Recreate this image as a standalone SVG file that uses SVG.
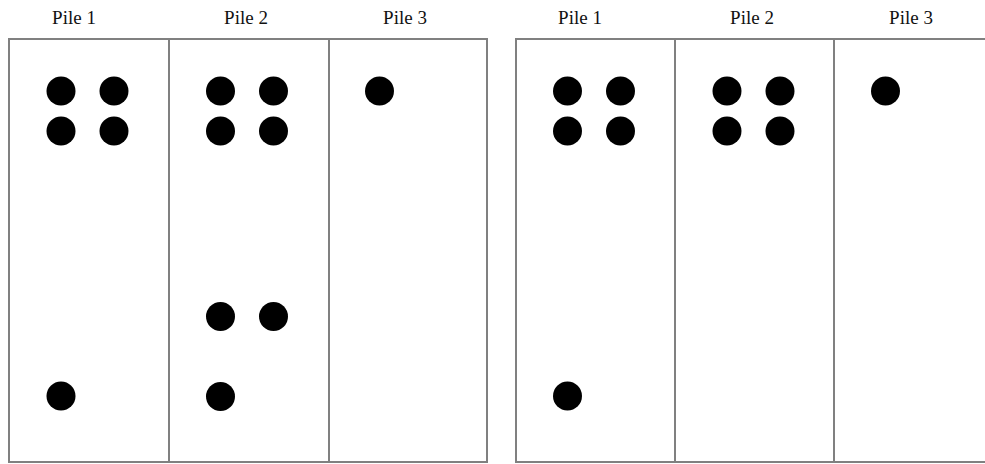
<svg xmlns="http://www.w3.org/2000/svg" width="985" height="464" viewBox="0 0 985 464">
<style>
.frame{fill:none;stroke:#808080;stroke-width:2}
.lbl{font-family:"Liberation Serif","Times New Roman",serif;font-size:19px;fill:#111;text-anchor:middle}
.tok{fill:#000}
</style>
<rect width="985" height="464" fill="#fff"/>
<defs>
<circle id="t" r="14.5" class="tok"/>
</defs>
<g id="state-left">
  <g id="L-frame">
    <rect class="frame" x="9" y="39" width="478" height="423"/>
    <line class="frame" x1="169" y1="39" x2="169" y2="462"/>
    <line class="frame" x1="329" y1="39" x2="329" y2="462"/>
  </g>
  <g id="L-pile1">
    <text class="lbl" x="74" y="24">Pile 1</text>
    <use href="#t" x="61" y="91"/><use href="#t" x="114" y="91"/>
    <use href="#t" x="61" y="131"/><use href="#t" x="114" y="131"/>
    <use href="#t" x="61" y="396"/>
  </g>
  <g id="L-pile2">
    <text class="lbl" x="246" y="24">Pile 2</text>
    <use href="#t" x="220.5" y="91"/><use href="#t" x="273.5" y="91"/>
    <use href="#t" x="220.5" y="131"/><use href="#t" x="273.5" y="131"/>
    <use href="#t" x="220.5" y="316.5"/><use href="#t" x="273.5" y="316.5"/>
    <use href="#t" x="220.5" y="396.5"/>
  </g>
  <g id="L-pile3">
    <text class="lbl" x="405" y="24">Pile 3</text>
    <use href="#t" x="379.5" y="91"/>
  </g>
</g>
<g id="state-right">
  <g id="R-frame">
    <rect class="frame" x="516" y="39" width="478" height="423"/>
    <line class="frame" x1="675" y1="39" x2="675" y2="462"/>
    <line class="frame" x1="834" y1="39" x2="834" y2="462"/>
  </g>
  <g id="R-pile1">
    <text class="lbl" x="580" y="24">Pile 1</text>
    <use href="#t" x="567.5" y="91"/><use href="#t" x="620.5" y="91"/>
    <use href="#t" x="567.5" y="131"/><use href="#t" x="620.5" y="131"/>
    <use href="#t" x="567.5" y="396"/>
  </g>
  <g id="R-pile2">
    <text class="lbl" x="752" y="24">Pile 2</text>
    <use href="#t" x="727" y="91"/><use href="#t" x="780" y="91"/>
    <use href="#t" x="727" y="131"/><use href="#t" x="780" y="131"/>
  </g>
  <g id="R-pile3">
    <text class="lbl" x="911" y="24">Pile 3</text>
    <use href="#t" x="885.5" y="91"/>
  </g>
</g>
</svg>
